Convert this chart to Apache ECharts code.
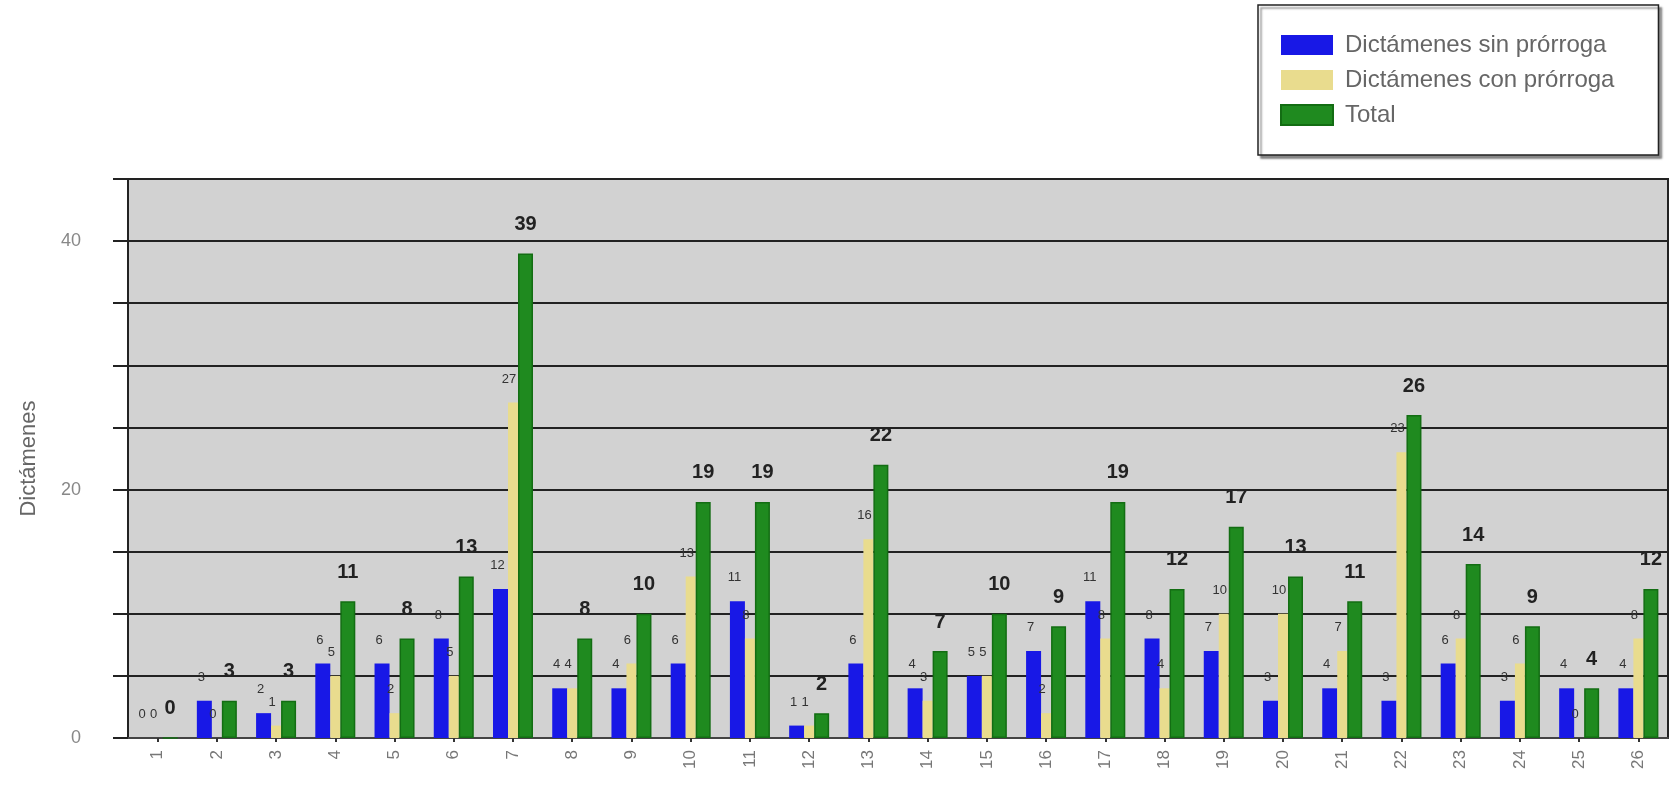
<!DOCTYPE html>
<html>
<head>
<meta charset="utf-8">
<script src="https://cdn.jsdelivr.net/npm/echarts@6/dist/echarts.min.js"></script>
<style>
  html, body { margin: 0; padding: 0; background: #fff; }
  #chart { width: 1671px; height: 789px; }
</style>
</head>
<body>
<div id="chart"></div>
<script>
const categories = ['1', '2', '3', '4', '5', '6', '7', '8', '9', '10', '11', '12', '13',
  '14', '15', '16', '17', '18', '19', '20', '21', '22', '23', '24', '25', '26']
const sinProrroga = [0, 3, 2, 6, 6, 8, 12, 4, 4, 6, 11, 1, 6, 4, 5, 7, 11, 8, 7, 3, 4, 3, 6, 3, 4, 4]
const conProrroga = [0, 0, 1, 5, 2, 5, 27, 4, 6, 13, 8, 1, 16, 3, 5, 2, 8, 4, 10, 10, 7, 23, 8, 6, 0, 8]
const total = [0, 3, 3, 11, 8, 13, 39, 8, 10, 19, 19, 2, 22, 7, 10, 9, 19, 12, 17, 13, 11, 26, 14, 9, 4, 12]
const seriesNames = ['Dictámenes sin prórroga', 'Dictámenes con prórroga', 'Total']

const chart = echarts.init(document.getElementById('chart'))

// etiquetas pequeñas para las dos primeras series
const smallLabel = {
  show: true,
  position: 'top',
  distance: 17,
  fontSize: 13,
  color: '#333'
}

const option = {
  animation: false,
  textStyle: { fontFamily: 'Liberation Sans' },
  legend: {
    orient: 'vertical',
    left: 1258,
    top: 5,
    padding: [28, 44, 28, 22],
    itemWidth: 52,
    itemHeight: 20,
    itemGap: 11,
    icon: 'rect',
    backgroundColor: '#fff',
    borderColor: '#222',
    borderWidth: 1.5,
    borderRadius: 0,
    shadowColor: 'rgba(0,0,0,0.45)',
    shadowBlur: 2,
    shadowOffsetX: 3,
    shadowOffsetY: 3,
    textStyle: { fontSize: 24, color: '#666', padding: [0, 0, 0, 7] },
    data: seriesNames
  },
  grid: {
    left: 128,
    right: 3,
    top: 179,
    bottom: 51,
    show: true,
    backgroundColor: '#d2d2d2',
    borderColor: '#222',
    borderWidth: 2
  },
  xAxis: {
    type: 'category',
    data: categories,
    axisLine: { lineStyle: { color: '#444', width: 2 } },
    axisTick: { show: true, alignWithLabel: true, length: 4, lineStyle: { color: '#333', width: 2 } },
    axisLabel: { rotate: 90, color: '#777', fontSize: 17, margin: 12 }
  },
  yAxis: {
    type: 'value',
    min: 0,
    max: 45,
    interval: 5,
    name: 'Dictámenes',
    nameLocation: 'middle',
    nameRotate: 90,
    nameGap: 88,
    nameTextStyle: { color: '#666', fontSize: 22 },
    axisLine: { show: true, lineStyle: { color: '#222', width: 2 } },
    axisTick: { show: true, length: 15, lineStyle: { color: '#222', width: 2 } },
    axisLabel: {
      color: '#888',
      fontSize: 18,
      margin: 47,
      formatter: function (v) { return v % 20 === 0 ? String(v) : '' }
    },
    splitLine: { show: true, lineStyle: { color: '#222', width: 2 } }
  },
  series: [
    {
      name: seriesNames[0],
      type: 'bar',
      data: sinProrroga,
      barWidth: 15,
      barGap: '0%',
      itemStyle: { color: '#1818e6' },
      label: Object.assign({}, smallLabel, { offset: [-3, 0] })
    },
    {
      name: seriesNames[1],
      type: 'bar',
      data: conProrroga,
      barWidth: 10,
      barGap: '0%',
      itemStyle: { color: '#e9dc8e' },
      label: Object.assign({}, smallLabel, { offset: [-4, 0] })
    },
    {
      name: seriesNames[2],
      type: 'bar',
      data: total,
      barWidth: 15,
      barGap: '0%',
      itemStyle: { color: '#1f8a1f', borderColor: '#136d13', borderWidth: 1.5 },
      label: {
        show: true,
        position: 'top',
        distance: 19,
        fontSize: 20,
        fontWeight: 'bold',
        color: '#222'
      }
    }
  ]
}

chart.setOption(option)
</script>
</body>
</html>
